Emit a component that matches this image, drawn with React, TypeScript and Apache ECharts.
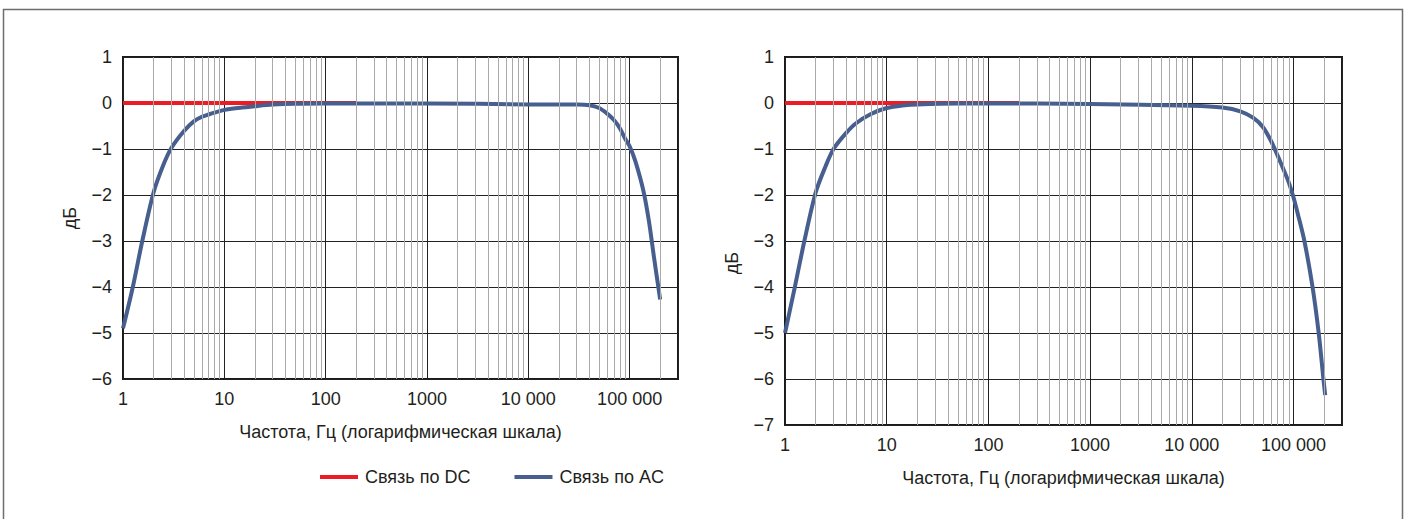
import React, { useEffect, useRef } from 'react';
import * as echarts from 'echarts';

// ---- data ----
const dcFreq = [1, 200];
const dcDb = [0, 0];

const leftAcFreq = [1, 1.25, 1.55, 2, 2.5, 3, 4, 5, 6, 7, 8, 10, 15, 20, 30, 50, 100, 1000, 10000, 30000, 40000, 50000, 60000, 70000, 80000, 90000, 100000, 114000, 137000, 155000, 174000, 200000];
const leftAcDb = [-4.9, -4.0, -3.0, -1.95, -1.35, -0.98, -0.61, -0.4, -0.3, -0.25, -0.21, -0.15, -0.1, -0.07, -0.035, -0.015, -0.01, -0.01, -0.03, -0.035, -0.05, -0.11, -0.23, -0.37, -0.55, -0.77, -0.94, -1.27, -1.92, -2.57, -3.36, -4.27];

const rightAcFreq = [1, 1.25, 1.55, 2, 2.5, 3, 4, 5, 7, 10, 15, 20, 50, 100, 1000, 10000, 20000, 30000, 40000, 50000, 60000, 70000, 80000, 90000, 100000, 110000, 128000, 154000, 177000, 197000, 205000];
const rightAcDb = [-5.0, -4.0, -3.0, -1.95, -1.38, -1.0, -0.65, -0.44, -0.24, -0.11, -0.05, -0.03, -0.01, -0.01, -0.02, -0.06, -0.1, -0.18, -0.32, -0.52, -0.82, -1.15, -1.45, -1.73, -2.05, -2.4, -3.0, -4.0, -5.0, -6.0, -6.35];

const xTickValues = [1, 10, 100, 1000, 10000, 100000];
const xTickLabels = ['1', '10', '100', '1000', '10 000', '100 000'];
const decades = [1, 10, 100, 1000, 10000, 100000];
const minorSteps = [2, 3, 4, 5, 6, 7, 8, 9];

const seriesNames = ['Связь по DC', 'Связь по AC'];
const xName = 'Частота, Гц (логарифмическая шкала)';
const yName = 'дБ';

const RED = '#ed1c24';
const BLUE = '#475f8e';
const TEXT = '#231f20';
const FONT = 'Liberation Sans, Arial, sans-serif';

const minorGrid: number[] = [];
decades.forEach((d) => minorSteps.forEach((k) => { if (k * d <= 200000) minorGrid.push(k * d); }));

const fmtX = (v: number) => {
  const i = xTickValues.findIndex((t) => Math.abs(t - v) / t < 1e-6);
  return i >= 0 ? xTickLabels[i] : '';
};
const fmtY = (v: number) => (v < 0 ? '\u2212' + Math.abs(v) : String(v));

const toPairs = (xs: number[], ys: number[]) => xs.map((x, i) => [x, ys[i]]);

function xAxisCfg(gridIndex: number) {
  return {
    type: 'log', logBase: 10, gridIndex, min: 1, max: 300000,
    axisLine: { show: false }, axisTick: { show: false },
    axisLabel: { formatter: fmtX, margin: 11, color: TEXT, fontSize: 18, fontFamily: FONT, interval: 0 },
    splitLine: { show: true, lineStyle: { color: '#222', width: 1 } },
    name: xName, nameLocation: 'middle', nameGap: 44,
    nameTextStyle: { color: TEXT, fontSize: 18, fontFamily: FONT },
  };
}

function yAxisCfg(gridIndex: number, min: number, padRight: number) {
  return {
    type: 'value', gridIndex, min, max: 1, interval: 1,
    axisLine: { show: false }, axisTick: { show: false },
    axisLabel: { formatter: fmtY, margin: 11, color: TEXT, fontSize: 18, fontFamily: FONT },
    splitLine: { show: true, lineStyle: { color: '#222', width: 1 } },
    name: yName, nameLocation: 'middle', nameGap: 44,
    nameTextStyle: { color: TEXT, fontSize: 18, fontFamily: FONT, padding: [0, padRight, 0, 0] },
  };
}

function seriesFor(i: number, acF: number[], acD: number[]) {
  return [
    {
      type: 'line', xAxisIndex: i, yAxisIndex: i, data: [], silent: true, z: 1,
      markLine: {
        silent: true, symbol: ['none', 'none'], label: { show: false },
        lineStyle: { color: '#a9a9a9', width: 1, type: 'solid' },
        emphasis: { disabled: true },
        data: minorGrid.map((v) => ({ xAxis: v })),
      },
    },
    {
      type: 'line', name: seriesNames[0], xAxisIndex: i, yAxisIndex: i, z: 2,
      data: toPairs(dcFreq, dcDb), showSymbol: false, symbol: 'none',
      lineStyle: { color: RED, width: 4 }, itemStyle: { color: RED },
    },
    {
      type: 'line', name: seriesNames[1], xAxisIndex: i, yAxisIndex: i, z: 3,
      data: toPairs(acF, acD), showSymbol: false, symbol: 'none', smooth: 0.3,
      lineStyle: { color: BLUE, width: 4 }, itemStyle: { color: BLUE },
    },
  ];
}

export default function App() {
  const ref = useRef<HTMLDivElement>(null);
  useEffect(() => {
    if (!ref.current) return;
    const chart = echarts.init(ref.current, null, { renderer: 'svg' });
    chart.setOption({
      animation: false,
      backgroundColor: '#ffffff',
      textStyle: { fontFamily: FONT },
      graphic: [
        {
          type: 'rect', silent: true, z: -1,
          shape: { x: 3.5, y: 9.5, width: 1399, height: 540 },
          style: { fill: 'none', stroke: '#6d6e71', lineWidth: 1.5 },
        },
      ],
      legend: {
        data: seriesNames, left: 315, top: 463, icon: 'rect', itemWidth: 38, itemHeight: 4,
        itemGap: 44, textStyle: { color: TEXT, fontSize: 18, fontFamily: FONT, padding: [0, 0, 0, 2] },
        selectedMode: false,
      },
      grid: [
        { left: 123, top: 57, width: 555, height: 322, show: true, borderColor: '#1a1a1a', borderWidth: 2, containLabel: false },
        { left: 785, top: 57, width: 557, height: 368, show: true, borderColor: '#1a1a1a', borderWidth: 2, containLabel: false },
      ],
      xAxis: [xAxisCfg(0), xAxisCfg(1)],
      yAxis: [yAxisCfg(0, -6, 0), yAxisCfg(1, -7, 44)],
      series: [...seriesFor(0, leftAcFreq, leftAcDb), ...seriesFor(1, rightAcFreq, rightAcDb)],
    });
    return () => chart.dispose();
  }, []);
  return <div ref={ref} style={{ position: 'fixed', left: 0, top: 0, width: 1407, height: 519 }} />;
}
